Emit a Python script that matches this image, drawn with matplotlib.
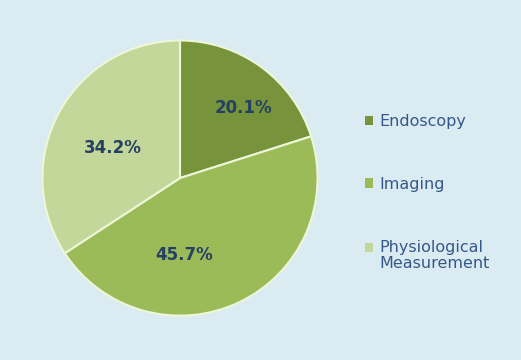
import numpy as np
import matplotlib.pyplot as plt
from matplotlib.patches import Patch

# Datos del gráfico
categorias = ["Endoscopy", "Imaging", "Physiological\nMeasurement"]
porcentajes = [20.1, 45.7, 34.2]
colores = ["#77933C", "#9BBB59", "#C4D79B"]

fondo = "#DBEBF2"
azul_texto = "#244062"
azul_leyenda = "#35588A"

fig = plt.figure(figsize=(5.21, 3.6), dpi=100, facecolor=fondo)
ax = fig.add_axes([0.0787, 0.1194, 0.5336, 0.772])
ax.set_facecolor(fondo)

cunas, _, textos = ax.pie(
    porcentajes,
    colors=colores,
    startangle=90,
    counterclock=False,
    autopct="%.1f%%",
    pctdistance=0.6,
    wedgeprops=dict(edgecolor="#EEF6D8", linewidth=1.5),
    textprops=dict(color=azul_texto, fontsize=12, fontweight="bold",
                   family="DejaVu Sans"),
)
ax.set_aspect("equal")
ax.set_xlim(-1.01, 1.01)
ax.set_ylim(-1.01, 1.01)

# Ajuste de la posición de las etiquetas (ángulo en grados, radio relativo)
ajustes = [(48, 0.69), (-87, 0.56), (156, 0.535)]
for t, (ang, r) in zip(textos, ajustes):
    a = np.deg2rad(ang)
    t.set_position((r * np.cos(a), r * np.sin(a)))

# Leyenda a la derecha
manejadores = [Patch(facecolor=c, edgecolor="none") for c in colores]
ley = fig.legend(
    manejadores, categorias,
    loc="center left",
    bbox_to_anchor=(0.700, 0.465),
    frameon=False,
    handlelength=0.5,
    handleheight=0.5,
    handletextpad=0.45,
    labelspacing=3.0,
    borderpad=0,
    borderaxespad=0,
    prop=dict(family="DejaVu Sans", size=11.5),
)
for t in ley.get_texts():
    t.set_color(azul_leyenda)
    t.set_linespacing(1.15)

# El marcador de la entrada de dos líneas va alineado con la primera línea
p = ley.get_patches()[2]
p.set_y(p.get_y() + 6)

fig.savefig("out.png", dpi=100, facecolor=fondo)
